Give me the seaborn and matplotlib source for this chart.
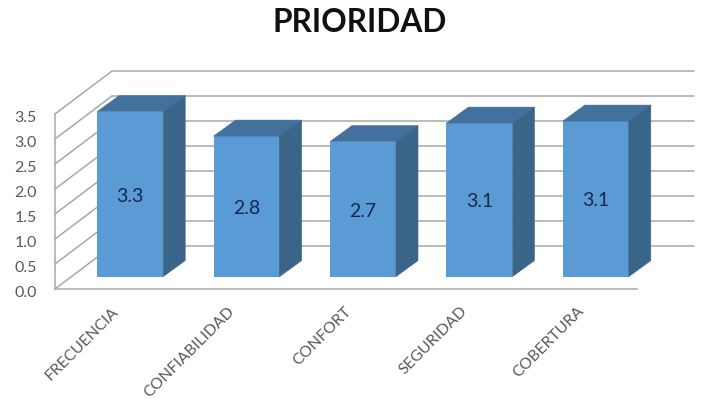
import matplotlib
matplotlib.use("Agg")
import matplotlib.pyplot as plt
import seaborn as sns
from matplotlib.patches import Polygon
from matplotlib.transforms import Affine2D

categories = ["FRECUENCIA", "CONFIABILIDAD", "CONFORT", "SEGURIDAD", "COBERTURA"]
values = [3.3, 2.81, 2.7, 3.07, 3.11]
y_ticks = [0.0, 0.5, 1.0, 1.5, 2.0, 2.5, 3.0, 3.5]

FRONT = "#5B9BD5"
TOP = "#41719C"
SIDE = "#3B6588"
WALL = "#A8A8A8"
TEXT = "#595959"

sns.set_style("white")
plt.rcParams["font.family"] = ["Lato", "DejaVu Sans"]

W, H = 703, 413
fig = plt.figure(figsize=(W / 100, H / 100), dpi=100)
ax = fig.add_axes([55 / W, (H - 289) / H, 582 / W, 175 / H])


def shift(dx, dy):
    # data coords pushed back by some pixels, fakes the 3d depth
    return ax.transData + Affine2D().translate(dx, dy)


sns.barplot(x=categories, y=values, color=FRONT, saturation=1, width=0.567, ax=ax, zorder=3)
ax.set_xlim(-0.5, 4.5)
ax.set_ylim(0, 3.5)

# back wall and left wall lines
back = shift(57, 43)
for t in y_ticks:
    ax.plot([-0.5, 4.5], [t, t], color=WALL, lw=1.1, transform=back, clip_on=False, zorder=1)
    ax.plot([55, 112], [H - 289 + t * 50, H - 246 + t * 50], color=WALL, lw=1.1,
            transform=None, clip_on=False, zorder=1)

# bars sit part way into the floor, then add the top and side faces
bar_shift = shift(17, 12.4)
for bar, v in zip(ax.patches[:len(values)], values):
    bar.set_transform(bar_shift)
    bar.set_clip_on(False)
    bar.set_edgecolor("none")
    x0, x1 = bar.get_x(), bar.get_x() + bar.get_width()
    depth_x = 22 * (5 / 582)
    depth_y = 16 * (3.5 / 175)
    top = Polygon([(x0, v), (x1, v), (x1 + depth_x, v + depth_y), (x0 + depth_x, v + depth_y)],
                  facecolor=TOP, edgecolor=TOP, lw=0.4, transform=bar_shift, clip_on=False, zorder=3)
    side = Polygon([(x1, 0), (x1 + depth_x, depth_y), (x1 + depth_x, v + depth_y), (x1, v)],
                   facecolor=SIDE, edgecolor=SIDE, lw=0.4, transform=bar_shift, clip_on=False, zorder=3)
    ax.add_patch(top)
    ax.add_patch(side)
    ax.text((x0 + x1) / 2, v / 2 - 0.04, f"{v:.1f}", ha="center", va="center", fontsize=14,
            color="#16294F", transform=bar_shift, zorder=4)

sns.despine(ax=ax)
for name in ["left", "bottom"]:
    ax.spines[name].set_color(WALL)
    ax.spines[name].set_linewidth(1.1)

ax.set_xlabel("")
ax.set_ylabel("")
ax.set_yticks(y_ticks)
ax.set_yticklabels([f"{t:.1f}" for t in y_ticks], fontsize=11.5, color=TEXT)
ax.tick_params(axis="y", length=0, pad=13)
ax.tick_params(axis="x", length=0, pad=11)
ax.set_xticks(range(len(categories)))
ax.set_xticklabels(categories, rotation=45, ha="right", rotation_mode="anchor", fontsize=11.3, color=TEXT)

for lab in ax.get_yticklabels():
    lab.set_transform(lab.get_transform() + Affine2D().translate(0, -2.5))
for lab in ax.get_xticklabels():
    lab.set_transform(lab.get_transform() + Affine2D().translate(-2, 0))

fig.text(360 / W, 1 - 23 / H, "PRIORIDAD", ha="center", va="center", fontsize=22.8,
         fontweight="bold", color="#111111")

plt.savefig("out.png", dpi=100)
plt.close()
